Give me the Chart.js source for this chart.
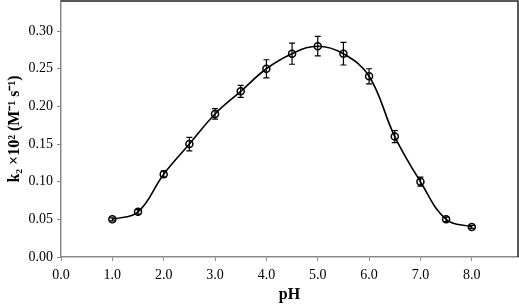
<!DOCTYPE html>
<html lang="en">
<head>
    <meta charset="UTF-8">
    <title>k2 vs pH</title>
    <script src="https://cdn.jsdelivr.net/npm/chart.js"></script>
    <style>
        body { margin: 0; background: #fff; }
        canvas { display: block; }
    </style>
</head>
<body>
    <canvas id="phChart" width="519" height="304"></canvas>
    <script>
        // data
        const phValues = [1.0, 1.5, 2.0, 2.5, 3.0, 3.5, 4.0, 4.5, 5.0, 5.5, 6.0, 6.5, 7.0, 7.5, 8.0];
        const k2Values = [0.050, 0.060, 0.110, 0.150, 0.190, 0.220, 0.250, 0.270, 0.280, 0.270, 0.240, 0.160, 0.100, 0.050, 0.040];
        const k2Errors = [0.002, 0.003, 0.004, 0.009, 0.007, 0.008, 0.012, 0.014, 0.013, 0.015, 0.010, 0.008, 0.006, 0.003, 0.002];

        const points = phValues.map((x, i) => ({ x: x, y: k2Values[i] }));

        // error bars + top/right frame
        const errorBars = {
            id: 'errorBars',
            afterDatasetsDraw(chart) {
                const ctx = chart.ctx;
                const xs = chart.scales.x, ys = chart.scales.y;
                ctx.save();
                ctx.strokeStyle = '#000';
                ctx.lineWidth = 1.2;
                points.forEach((p, i) => {
                    const px = xs.getPixelForValue(p.x);
                    const top = ys.getPixelForValue(p.y + k2Errors[i]);
                    const bot = ys.getPixelForValue(p.y - k2Errors[i]);
                    ctx.beginPath();
                    ctx.moveTo(px, top); ctx.lineTo(px, bot);
                    ctx.moveTo(px - 3, top); ctx.lineTo(px + 3, top);
                    ctx.moveTo(px - 3, bot); ctx.lineTo(px + 3, bot);
                    ctx.stroke();
                });
                const a = chart.chartArea;
                ctx.strokeStyle = '#222';
                ctx.lineWidth = 1.5;
                ctx.beginPath();
                ctx.moveTo(a.left, a.top);
                ctx.lineTo(a.right, a.top);
                ctx.lineTo(a.right, a.bottom);
                ctx.stroke();
                ctx.restore();
            }
        };

        const serif = "'Liberation Serif', 'Times New Roman', serif";

        new Chart(document.getElementById('phChart').getContext('2d'), {
            type: 'line',
            data: {
                datasets: [{
                    data: points,
                    borderColor: '#000',
                    borderWidth: 1.6,
                    tension: 0.4,
                    fill: false,
                    pointRadius: 3.5,
                    pointBorderWidth: 1.5,
                    pointBorderColor: '#000',
                    pointBackgroundColor: 'rgba(0,0,0,0)'
                }]
            },
            options: {
                responsive: false,
                animation: false,
                layout: { autoPadding: false, padding: { top: 1, right: 1, left: 0, bottom: 0 } },
                plugins: {
                    legend: { display: false },
                    tooltip: { enabled: false }
                },
                scales: {
                    x: {
                        type: 'linear',
                        min: 0,
                        max: 8.9,
                        grid: { display: true, drawOnChartArea: false, drawTicks: true, tickLength: 4, color: '#888' },
                        border: { display: true, color: '#888', width: 1.5 },
                        ticks: {
                            stepSize: 1,
                            includeBounds: false,
                            color: '#000',
                            padding: 6,
                            font: { family: serif, size: 14 },
                            callback: v => v.toFixed(1)
                        },
                        title: {
                            display: true,
                            text: 'pH',
                            color: '#000',
                            font: { family: serif, size: 16, weight: 'bold' },
                            padding: { top: 2, bottom: 0 }
                        },
                        afterFit: s => {
                            s.height = 47;
                            s.paddingLeft = 0;
                            s.paddingRight = 0;
                        }
                    },
                    y: {
                        min: 0,
                        max: 0.34,
                        grid: { display: true, drawOnChartArea: false, drawTicks: true, tickLength: 4, color: '#888' },
                        border: { display: true, color: '#888', width: 1.5 },
                        ticks: {
                            stepSize: 0.05,
                            includeBounds: false,
                            color: '#000',
                            padding: 4,
                            font: { family: serif, size: 14 },
                            callback: v => v.toFixed(2)
                        },
                        title: {
                            display: true,
                            text: 'k\u2082 \u00d710\u00b2 (M\u207b\u00b9 s\u207b\u00b9)',
                            color: '#000',
                            font: { family: serif, size: 16, weight: 'bold' },
                            padding: { top: 5, bottom: 0 }
                        },
                        afterFit: s => {
                            s.width = 61;
                            s.paddingTop = 0;
                            s.paddingBottom = 0;
                        }
                    }
                }
            },
            plugins: [errorBars]
        });
    </script>
</body>
</html>
